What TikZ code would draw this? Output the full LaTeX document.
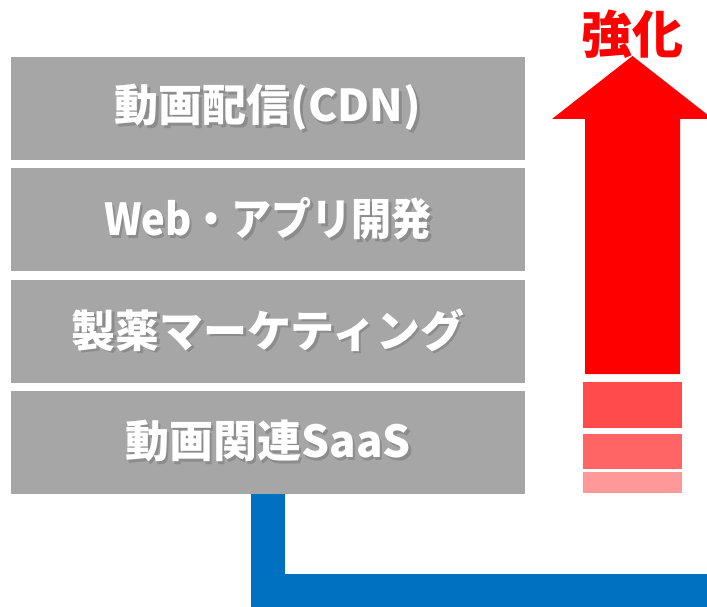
\documentclass[tikz,border=0pt]{standalone}
\usepackage{fontspec}
\newfontfamily\jpfont{Noto Sans CJK JP}
\usepackage{tikz}
\usetikzlibrary{positioning}

\definecolor{boxgray}{HTML}{A6A6A6}
\definecolor{lineblue}{HTML}{0070C0}
\definecolor{stripeA}{HTML}{FF4B4B}
\definecolor{stripeB}{HTML}{FF6565}
\definecolor{stripeC}{HTML}{FF9999}

\newcommand{\dropshadow}[1]{\makebox[0pt][l]{\hspace{2.5pt}\raisebox{-2.5pt}{\color{black!45}#1}}#1}

\begin{document}
\begin{tikzpicture}[x=1pt,y=-1pt]

\tikzstyle{layer} = [rectangle, minimum width=514pt, minimum height=103pt, inner sep=0pt, fill=boxgray, text=white, font=\jpfont\bfseries\fontsize{44}{48}\selectfont]
\tikzstyle{stripe} = [rectangle, minimum width=99pt, inner sep=0pt]
\tikzstyle{band} = [line width=34pt, draw=lineblue, line join=miter]

\clip (0,0) rectangle (707,607);

% service layers
\node (cdn) [layer] at (268,108.5) {\dropshadow{動画配信(CDN)}};
\node (web) [layer, below=8pt of cdn] {\scalebox{0.91}[1]{\dropshadow{Web・アプリ開発}}};
\node (pharma) [layer, below=8pt of web] {\dropshadow{製薬マーケティング}};
\node (saas) [layer, below=8pt of pharma] {\dropshadow{動画関連SaaS}};

% strengthen arrow
\node (title) [text=red, font=\jpfont\bfseries\fontsize{51}{55}\selectfont] at (632,34) {強化};
\fill [red] (585,374) -- (585,119) -- (552,119) -- (632.5,56) -- (713,119) -- (680,119) -- (680,374) -- cycle;
\node (s1) [stripe, fill=stripeA, minimum height=46pt] at (632.5,405) {};
\node (s2) [stripe, fill=stripeB, minimum height=35pt] at (632.5,451.5) {};
\node (s3) [stripe, fill=stripeC, minimum height=21pt] at (632.5,482.5) {};

\coordinate (exit) at (720,590.5);
\draw [band] (saas.south) |- (exit);

\end{tikzpicture}
\end{document}
